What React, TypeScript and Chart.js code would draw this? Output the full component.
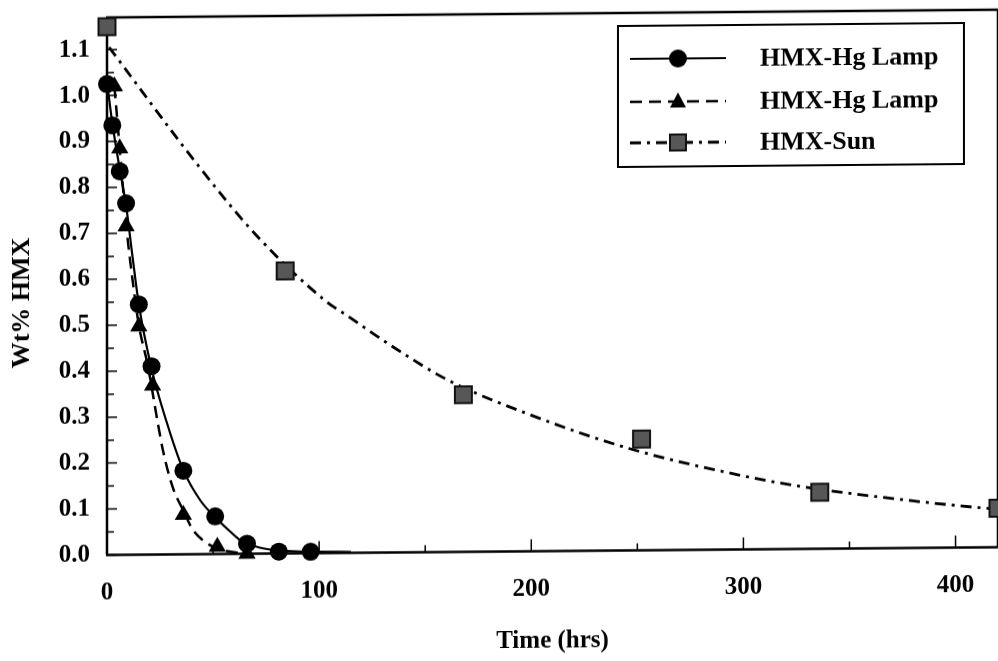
import { useEffect, useRef } from "react";
import { Chart, registerables } from "chart.js";

Chart.register(...registerables);

// Legend labels and axis titles
const seriesNames = ["HMX-Hg Lamp", "HMX-Hg Lamp", "HMX-Sun"];
const xTitle = "Time (hrs)";
const yTitle = "Wt% HMX";

// Hg lamp run 1 (circles) and its fitted decay curve
const lampATimes = [0, 2.5, 6, 9, 15, 21, 36, 51, 66, 81, 96];
const lampAValues = [1.025, 0.935, 0.835, 0.765, 0.545, 0.41, 0.182, 0.082, 0.022, 0.004, 0.003];
const lampAFitTimes = [0, 2.5, 6, 9, 12, 15, 21, 28, 36, 44, 51, 58, 63, 72, 85, 100, 115];
const lampAFitValues = [1.03, 0.94, 0.84, 0.76, 0.65, 0.545, 0.405, 0.29, 0.183, 0.117, 0.08, 0.049, 0.029, 0.013, 0.005, 0.003, 0.002];

// Hg lamp run 2 (triangles) and its fitted decay curve
const lampBTimes = [3.5, 6, 9, 15, 21.5, 36, 52, 66];
const lampBValues = [1.02, 0.885, 0.715, 0.497, 0.368, 0.086, 0.016, 0.0];
const lampBFitTimes = [3.5, 6, 9, 12, 15, 19.3, 24, 26.5, 31, 36, 40.5, 47, 52, 58, 66];
const lampBFitValues = [1.02, 0.885, 0.72, 0.6, 0.5, 0.41, 0.285, 0.224, 0.146, 0.095, 0.053, 0.024, 0.012, 0.005, 0.0];

// Sunlight exposure (squares) and its fitted decay curve
const sunTimes = [0, 84, 168, 252, 336, 420];
const sunValues = [1.15, 0.615, 0.342, 0.242, 0.123, 0.085];
const sunFitTimes = [1, 44, 70, 103, 113, 136, 160, 199, 246, 301, 331, 379, 410, 420];
const sunFitValues = [1.105, 0.84, 0.695, 0.549, 0.517, 0.444, 0.376, 0.298, 0.222, 0.159, 0.133, 0.103, 0.087, 0.083];

// Axis ticks
const xMajorTicks = [0, 100, 200, 300, 400];
const xMinorTicks = [50, 150, 250, 350];
const yMajorTicks = [0, 0.1, 0.2, 0.3, 0.4, 0.5, 0.6, 0.7, 0.8, 0.9, 1.0, 1.1];
const yMinorTicks = [0.05, 0.15, 0.25, 0.35, 0.45, 0.55, 0.65, 0.75, 0.85, 0.95, 1.05, 1.15];

const FONT = "'Liberation Serif', 'Times New Roman', serif";
const SOLID: number[] = [];
const DASHED = [12, 7];
const DASH_DOT = [11, 6, 3, 6];
const SQUARE_FILL = "#575757";

const pts = (xs: number[], ys: number[]) => xs.map((x, i) => ({ x, y: ys[i] }));

// Axis lines, top frame, inward tick marks and the vertical axis title
const framePlugin = {
  id: "frameAndTicks",
  beforeDatasetsDraw(chart: any) {
    const { ctx, chartArea, scales } = chart;
    const { left, right, top, bottom } = chartArea;
    ctx.save();
    ctx.strokeStyle = "#000";
    ctx.lineWidth = 2.5;
    ctx.setLineDash([]);
    ctx.beginPath();
    ctx.moveTo(left, top);
    ctx.lineTo(left, bottom);
    ctx.moveTo(left - 1, bottom);
    ctx.lineTo(right, bottom);
    ctx.moveTo(left - 1, top);
    ctx.lineTo(right, top);
    ctx.moveTo(right, top);
    ctx.lineTo(right, bottom);
    ctx.stroke();

    ctx.lineWidth = 1.5;
    ctx.beginPath();
    yMajorTicks.forEach((v) => {
      const y = scales.y.getPixelForValue(v);
      ctx.moveTo(left, y);
      ctx.lineTo(left + 10, y);
    });
    yMinorTicks.forEach((v) => {
      const y = scales.y.getPixelForValue(v);
      ctx.moveTo(left, y);
      ctx.lineTo(left + 7, y);
    });
    xMajorTicks.forEach((v) => {
      const x = scales.x.getPixelForValue(v);
      ctx.moveTo(x, bottom);
      ctx.lineTo(x, bottom - 12);
    });
    xMinorTicks.forEach((v) => {
      const x = scales.x.getPixelForValue(v);
      ctx.moveTo(x, bottom);
      ctx.lineTo(x, bottom - 7);
    });
    ctx.stroke();

    // vertical axis title
    ctx.translate(22, (top + bottom) / 2 + 16);
    ctx.rotate(-Math.PI / 2);
    ctx.fillStyle = "#000";
    ctx.font = `bold 26px ${FONT}`;
    ctx.textAlign = "center";
    ctx.textBaseline = "middle";
    ctx.fillText(yTitle, 0, 0);
    ctx.restore();
  },
};

function drawMarker(ctx: CanvasRenderingContext2D, kind: string, x: number, y: number) {
  ctx.setLineDash([]);
  ctx.beginPath();
  if (kind === "circle") {
    ctx.fillStyle = "#000";
    ctx.arc(x, y, 9, 0, Math.PI * 2);
    ctx.fill();
  } else if (kind === "triangle") {
    ctx.fillStyle = "#000";
    ctx.moveTo(x, y - 9);
    ctx.lineTo(x + 8, y + 6);
    ctx.lineTo(x - 8, y + 6);
    ctx.closePath();
    ctx.fill();
  } else {
    ctx.fillStyle = SQUARE_FILL;
    ctx.strokeStyle = "#111";
    ctx.lineWidth = 2;
    ctx.rect(x - 8, y - 8, 16, 16);
    ctx.fill();
    ctx.stroke();
  }
}

// Boxed legend with line-and-marker samples
const legendPlugin = {
  id: "boxLegend",
  afterDraw(chart: any) {
    const { ctx, chartArea } = chart;
    const boxL = chartArea.right - 380;
    const boxR = chartArea.right - 34;
    const boxT = chartArea.top + 13;
    const boxB = chartArea.top + 154;
    ctx.save();
    ctx.fillStyle = "#fff";
    ctx.fillRect(boxL, boxT, boxR - boxL, boxB - boxT);
    ctx.strokeStyle = "#000";
    ctx.lineWidth = 2;
    ctx.setLineDash([]);
    ctx.strokeRect(boxL, boxT, boxR - boxL, boxB - boxT);

    const styles = [
      { dash: SOLID, marker: "circle", width: 2.2 },
      { dash: DASHED, marker: "triangle", width: 2.5 },
      { dash: DASH_DOT, marker: "rect", width: 2.8 },
    ];
    const rowY = [boxT + 33, boxT + 76, boxT + 117];
    styles.forEach((s, i) => {
      const y = rowY[i];
      ctx.strokeStyle = "#000";
      ctx.lineWidth = s.width;
      ctx.setLineDash(s.dash);
      ctx.beginPath();
      ctx.moveTo(boxL + 12, y);
      ctx.lineTo(boxL + 108, y);
      ctx.stroke();
      drawMarker(ctx, s.marker, boxL + 60, y);
      ctx.setLineDash([]);
      ctx.fillStyle = "#000";
      ctx.font = `bold 26px ${FONT}`;
      ctx.textBaseline = "middle";
      ctx.textAlign = "left";
      ctx.fillText(seriesNames[i], boxL + 142, y + 1);
    });
    ctx.restore();
  },
};

export default function App() {
  const canvasRef = useRef<HTMLCanvasElement | null>(null);

  useEffect(() => {
    if (!canvasRef.current) return;
    const chart = new Chart(canvasRef.current, {
      type: "scatter",
      data: {
        datasets: [
          {
            label: "fitA",
            data: pts(lampAFitTimes, lampAFitValues),
            showLine: true,
            borderColor: "#000",
            borderWidth: 2.2,
            pointRadius: 0,
            cubicInterpolationMode: "monotone",
            order: 5,
          },
          {
            label: "fitB",
            data: pts(lampBFitTimes, lampBFitValues),
            showLine: true,
            borderColor: "#000",
            borderWidth: 2.5,
            borderDash: DASHED,
            pointRadius: 0,
            cubicInterpolationMode: "monotone",
            order: 5,
          },
          {
            label: "fitSun",
            data: pts(sunFitTimes, sunFitValues),
            showLine: true,
            borderColor: "#000",
            borderWidth: 2.8,
            borderDash: DASH_DOT,
            pointRadius: 0,
            cubicInterpolationMode: "monotone",
            order: 5,
          },
          {
            label: seriesNames[0],
            data: pts(lampATimes, lampAValues),
            pointStyle: "circle",
            pointRadius: 9,
            backgroundColor: "#000",
            borderColor: "#000",
            borderWidth: 0,
            clip: false,
            order: 1,
          },
          {
            label: seriesNames[1],
            data: pts(lampBTimes, lampBValues),
            pointStyle: "triangle",
            pointRadius: 10,
            backgroundColor: "#000",
            borderColor: "#000",
            borderWidth: 0,
            clip: false,
            order: 2,
          },
          {
            label: seriesNames[2],
            data: pts(sunTimes, sunValues),
            pointStyle: "rect",
            pointRadius: 12,
            backgroundColor: SQUARE_FILL,
            borderColor: "#111",
            borderWidth: 2,
            clip: false,
            order: 3,
          },
        ],
      },
      options: {
        animation: false,
        responsive: true,
        maintainAspectRatio: false,
        layout: { padding: { top: 9.5, right: 12, left: 0, bottom: 0 } },
        plugins: {
          legend: { display: false },
          tooltip: { enabled: false },
        },
        scales: {
          x: {
            type: "linear",
            min: 0,
            max: 420,
            grid: { display: false, drawTicks: false },
            border: { display: false },
            afterBuildTicks: (scale: any) => {
              scale.ticks = xMajorTicks.map((value) => ({ value }));
            },
            afterFit: (scale: any) => {
              scale.height = 109.5;
            },
            ticks: {
              color: "#000",
              padding: 23,
              font: { family: FONT, size: 25, weight: "bold" },
              callback: (v: any) => String(v),
            },
            title: {
              display: true,
              text: xTitle,
              color: "#000",
              font: { family: FONT, size: 25, weight: "bold" },
              padding: { top: 0, bottom: 4 },
            },
          },
          y: {
            type: "linear",
            min: 0,
            max: 1.17,
            grid: { display: false, drawTicks: false },
            border: { display: false },
            afterBuildTicks: (scale: any) => {
              scale.ticks = yMajorTicks.map((value) => ({ value }));
            },
            afterFit: (scale: any) => {
              scale.width = 107;
              scale.paddingTop = 0;
              scale.paddingBottom = 0;
            },
            ticks: {
              color: "#000",
              padding: 17,
              font: { family: FONT, size: 25, weight: "bold" },
              callback: (v: any) => Number(v).toFixed(1),
            },
          },
        },
      },
      plugins: [framePlugin, legendPlugin],
    } as any);
    return () => chart.destroy();
  }, []);

  return (
    <div
      style={{
        position: "fixed",
        left: 0,
        top: 0,
        width: 998,
        height: 661,
        overflow: "hidden",
        background: "#fff",
      }}
    >
      {/* the printed figure runs slightly uphill to the right */}
      <div
        style={{
          position: "relative",
          width: 1012,
          height: 661,
          transform: "skewY(-0.5deg)",
        }}
      >
        <canvas ref={canvasRef} />
      </div>
    </div>
  );
}
